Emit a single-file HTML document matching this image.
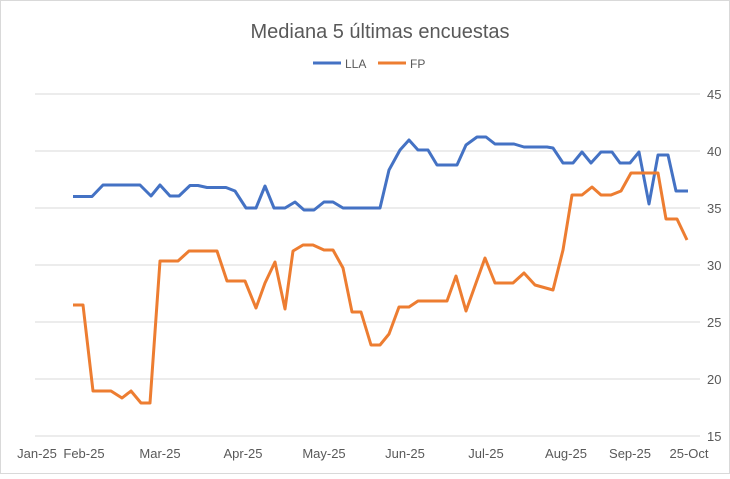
<!DOCTYPE html><html><head><style>body{margin:0;background:#fff}</style></head><body>
<svg width="730" height="474" xmlns="http://www.w3.org/2000/svg" font-family="Liberation Sans, sans-serif">
<rect x="0.5" y="0.5" width="729" height="473" fill="#fff" stroke="#d9d9d9"/>
<text x="380" y="38" text-anchor="middle" font-size="20" fill="#595959">Mediana 5 últimas encuestas</text>
<line x1="313" y1="63" x2="341" y2="63" stroke="#4472c4" stroke-width="3"/>
<text x="345" y="68" font-size="12" fill="#595959">LLA</text>
<line x1="378" y1="63" x2="406" y2="63" stroke="#ed7d31" stroke-width="3"/>
<text x="410" y="68" font-size="12" fill="#595959">FP</text>
<g stroke="#d9d9d9" stroke-width="1">
<line x1="35" y1="94" x2="700" y2="94"/><line x1="35" y1="151" x2="700" y2="151"/><line x1="35" y1="208" x2="700" y2="208"/><line x1="35" y1="265" x2="700" y2="265"/><line x1="35" y1="322" x2="700" y2="322"/><line x1="35" y1="379" x2="700" y2="379"/><line x1="35" y1="436" x2="700" y2="436"/>
</g>
<g font-size="13" fill="#595959">
<text x="707" y="99">45</text><text x="707" y="156">40</text><text x="707" y="213">35</text><text x="707" y="270">30</text><text x="707" y="327">25</text><text x="707" y="384">20</text><text x="707" y="441">15</text>
</g>
<g font-size="13" fill="#595959" text-anchor="middle">
<text x="37" y="458">Jan-25</text><text x="84" y="458">Feb-25</text><text x="160" y="458">Mar-25</text><text x="243" y="458">Apr-25</text><text x="324" y="458">May-25</text><text x="405" y="458">Jun-25</text><text x="486" y="458">Jul-25</text><text x="566" y="458">Aug-25</text><text x="630" y="458">Sep-25</text><text x="689" y="458">25-Oct</text>
</g>
<polyline fill="none" stroke="#4472c4" stroke-width="3" stroke-linejoin="round" points="73,196.5 92,196.5 103,185 140,185 151,196 160,185 170,196 179,196 190,185.5 198,185.5 207,187.5 226,187.5 235,191 246,208 256,208 265,186 274,208 285,208 295,202 304,210 314,210 324,202 333,202 343,208 380,208 389,170 400,150 409,140 418,150 428,150 437,165 457,165 466,145 477,137 486,137 495,144 514,144 524,147 547,147 553,148 563,163 573,163 582,152 591,163 601,152 612,152 620,163 630,163 639,152 649,204 658,155 668,155 676,191 688,191"/>
<polyline fill="none" stroke="#ed7d31" stroke-width="3" stroke-linejoin="round" points="73,305 83,305 93,391 111,391 122,398 131,391 141,403 150,403 160,261 178,261 189,251 217,251 227,281 245,281 256,308 265,283 275,262 285,309 293,251 303,245 313,245 324,250 333,250 343,268 352,312 361,312 371,345 380,345 389,334 399,307 409,307 418,301 447,301 456,276 466,311 476,283 485,258 495,283 513,283 524,273 535,285 553,290 563,250 572,195 582,195 592,187 601,195 611,195 621,191 631,173 658,173 666,219 677,219 687,240"/>
</svg>
</body></html>
